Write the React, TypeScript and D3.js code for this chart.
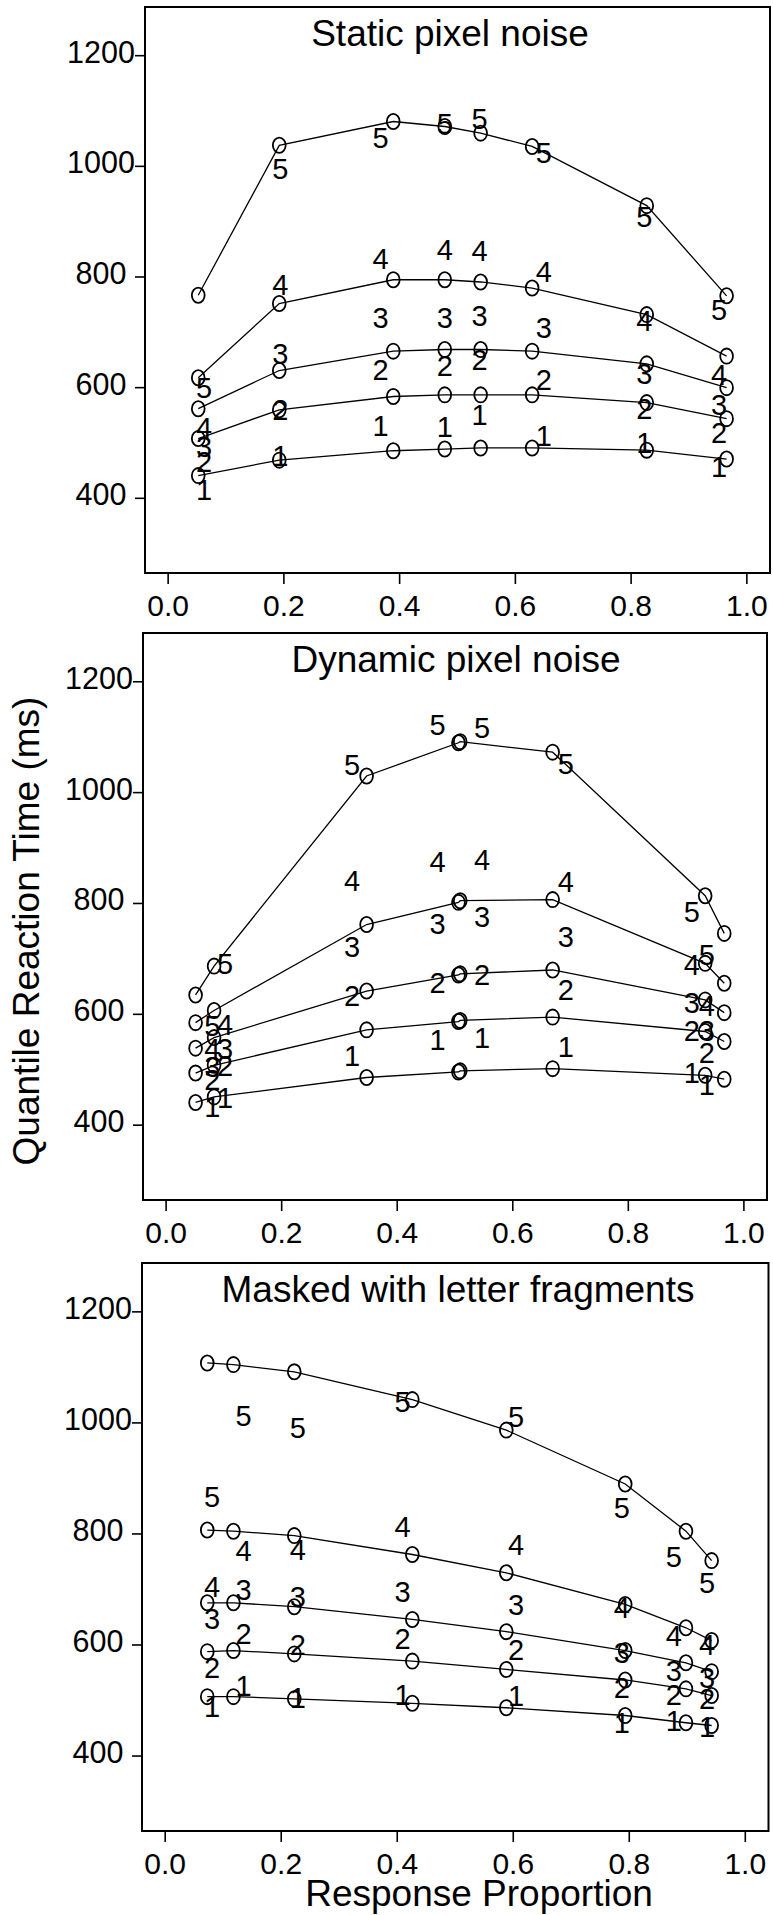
import React from 'react';
import * as d3 from 'd3';

// response proportion ticks and RT ticks
const propTicks = [0, 0.2, 0.4, 0.6, 0.8, 1.0];
const rtTicks = [400, 600, 800, 1000, 1200];
const quantileNames = ['1', '2', '3', '4', '5'];

// Static pixel noise: model (circles + lines) and data (digits)
const staticPredP = [0.052, 0.192, 0.389, 0.478, 0.540, 0.629, 0.827, 0.965];
const staticPredRT = [
  [441, 469, 486, 489, 491, 491, 487, 471],
  [508, 560, 584, 587, 587, 587, 573, 544],
  [562, 631, 666, 669, 669, 666, 643, 600],
  [618, 752, 795, 795, 791, 780, 732, 657],
  [767, 1038, 1081, 1072, 1060, 1036, 929, 766],
];
const staticObsP = [0.062, 0.194, 0.367, 0.478, 0.538, 0.649, 0.823, 0.952];
const staticObsRT = [
  [416, 477, 531, 529, 551, 513, 500, 457],
  [466, 560, 632, 640, 651, 615, 562, 518],
  [494, 661, 726, 726, 730, 708, 625, 570],
  [528, 786, 834, 850, 848, 809, 721, 623],
  [600, 996, 1052, 1078, 1086, 1025, 909, 741],
];

// Dynamic pixel noise
const dynamicPredP = [0.051, 0.083, 0.347, 0.506, 0.509, 0.669, 0.933, 0.966];
const dynamicPredRT = [
  [441, 451, 486, 496, 498, 502, 490, 483],
  [494, 508, 572, 587, 589, 595, 569, 551],
  [539, 558, 642, 671, 673, 680, 626, 603],
  [585, 607, 762, 802, 805, 807, 692, 656],
  [635, 687, 1030, 1090, 1092, 1073, 814, 746],
];
const dynamicObsP = [0.080, 0.102, 0.322, 0.470, 0.547, 0.692, 0.910, 0.936];
const dynamicObsRT = [
  [433, 450, 526, 554, 558, 542, 495, 474],
  [483, 508, 633, 658, 671, 644, 570, 531],
  [505, 539, 722, 763, 776, 741, 621, 570],
  [539, 582, 841, 875, 880, 839, 690, 615],
  [580, 691, 1050, 1123, 1118, 1052, 786, 708],
];

// Masked with letter fragments
const maskedPredP = [0.0725, 0.1176, 0.2225, 0.426, 0.588, 0.793, 0.8977, 0.942];
const maskedPredRT = [
  [507, 507, 503, 495, 487, 473, 460, 455],
  [588, 590, 584, 571, 556, 537, 521, 509],
  [676, 676, 669, 646, 624, 590, 568, 552],
  [807, 805, 797, 763, 730, 673, 631, 608],
  [1108, 1105, 1092, 1042, 987, 890, 805, 752],
];
const maskedObsP = [0.081, 0.135, 0.2285, 0.409, 0.605, 0.787, 0.877, 0.934];
const maskedObsRT = [
  [489, 527, 506, 511, 509, 460, 464, 453],
  [560, 621, 601, 612, 592, 524, 510, 504],
  [648, 700, 688, 697, 673, 587, 554, 542],
  [706, 770, 771, 813, 781, 668, 617, 601],
  [868, 1014, 991, 1038, 1011, 847, 759, 712],
];

const panels = [
  { title: 'Static pixel noise', titleX: 450, predP: staticPredP, predRT: staticPredRT, obsP: staticObsP, obsRT: staticObsRT, box: [145, 7, 770, 573] },
  { title: 'Dynamic pixel noise', titleX: 456, predP: dynamicPredP, predRT: dynamicPredRT, obsP: dynamicObsP, obsRT: dynamicObsRT, box: [143, 633, 767, 1200] },
  { title: 'Masked with letter fragments', titleX: 458, predP: maskedPredP, predRT: maskedPredRT, obsP: maskedObsP, obsRT: maskedObsRT, box: [142, 1263, 768.5, 1831] },
];

const font = "'Liberation Sans', Arial, Helvetica, sans-serif";

const Panel = ({ p, showXTitle }) => {
  const [l, t, r, b] = p.box;
  const x = d3.scaleLinear().domain([-0.04, 1.04]).range([l, r]);
  const y = d3.scaleLinear().domain([265, 1288]).range([b, t]);
  const line = d3.line().x(d => x(d[0])).y(d => y(d[1]));

  return (
    <g>
      <rect x={l} y={t} width={r - l} height={b - t} fill="none" stroke="#000" strokeWidth={2} />
      <text x={p.titleX} y={t + 39} textAnchor="middle" fontSize={37}>{p.title}</text>

      {rtTicks.map(v => (
        <g key={'y' + v}>
          <line x1={l - 10} x2={l} y1={y(v)} y2={y(v)} stroke="#000" strokeWidth={1.6} />
          <text x={l - 44} y={y(v) + 7} textAnchor="middle" fontSize={30.5}>{v}</text>
        </g>
      ))}
      {propTicks.map(v => (
        <g key={'x' + v}>
          <line x1={x(v)} x2={x(v)} y1={b} y2={b + 11} stroke="#000" strokeWidth={1.6} />
          <text x={x(v)} y={b + 43} textAnchor="middle" fontSize={30}>{v.toFixed(1)}</text>
        </g>
      ))}

      {p.predRT.map((qs, qi) => (
        <path key={'l' + qi} d={line(qs.map((v, i) => [p.predP[i], v]))} fill="none" stroke="#000" strokeWidth={1.3} />
      ))}
      {p.predRT.map((qs, qi) => qs.map((v, i) => (
        <ellipse key={'c' + qi + '-' + i} cx={x(p.predP[i])} cy={y(v)} rx={6.4} ry={7.6}
          fill="none" stroke="#000" strokeWidth={1.8} />
      )))}
      {p.obsRT.map((qs, qi) => qs.map((v, i) => (
        <text key={'n' + qi + '-' + i} x={x(p.obsP[i])} y={y(v)} dy="0.36em" textAnchor="middle" fontSize={29}>
          {quantileNames[qi]}
        </text>
      )))}
      {showXTitle && (
        <text x={479} y={1906} textAnchor="middle" fontSize={37}>Response Proportion</text>
      )}
    </g>
  );
};

export default function App() {
  return (
    <svg width={773} height={1915} style={{ position: 'absolute', left: 0, top: 0, display: 'block', background: '#fff' }}
      fontFamily={font}>
      <rect width={773} height={1915} fill="#fff" />
      {panels.map((p, i) => <Panel key={p.title} p={p} showXTitle={i === panels.length - 1} />)}
      <text transform="translate(39, 931) rotate(-90)" textAnchor="middle" fontSize={37}>Quantile Reaction Time (ms)</text>
    </svg>
  );
}
